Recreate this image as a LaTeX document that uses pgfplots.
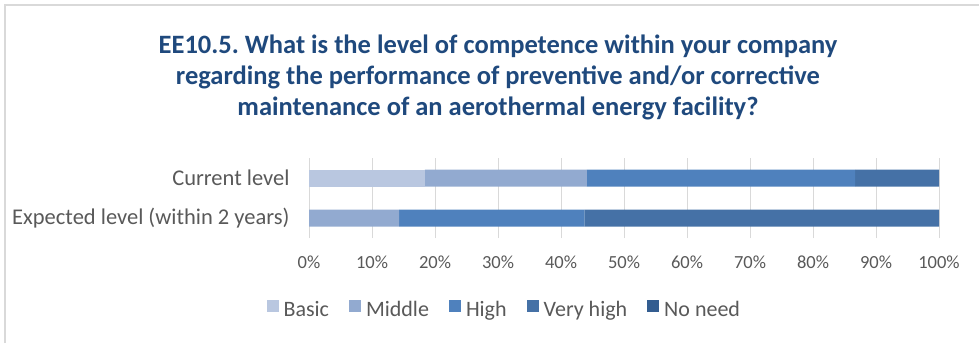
\documentclass[border=0pt]{standalone}
\usepackage{fontspec}
\setmainfont{Carlito}
\usepackage{pgfplots}
\pgfplotsset{compat=1.18}
\definecolor{cBasic}{HTML}{B9C7E0}
\definecolor{cMiddle}{HTML}{92AAD0}
\definecolor{cHigh}{HTML}{4F81BD}
\definecolor{cVery}{HTML}{4571A6}
\definecolor{cNo}{HTML}{335D90}
\definecolor{titleblue}{HTML}{1F497D}
\definecolor{labelgray}{HTML}{595959}
\frenchspacing
\begin{document}
\begin{tikzpicture}[x=1pt,y=1pt]
\useasboundingbox (0,0) rectangle (979,343);
\draw[color=gray!30, line width=1.5pt] (5,0) -- (5,338) -- (979,338);
\node[font=\fontsize{26.5}{31}\selectfont\bfseries, text=titleblue, align=center] at (498,266)
 {EE10.5. What is the level of competence within your company\\regarding the performance of preventive and/or corrective\\maintenance of an aerothermal energy facility?};
\begin{axis}[at={(309pt,105pt)}, anchor=south west, width=630pt, height=80pt, scale only axis,
  xbar stacked, bar width=17pt, xmin=0, xmax=100, ymin=-0.5, ymax=1.5,
  ytick={0,1}, yticklabels={Expected level (within 2 years), Current level},
  xtick={0,10,...,100}, xticklabel={\pgfmathprintnumber{\tick}\%},
  xmajorgrids, grid style={color=gray!30, line width=1pt},
  axis line style={draw=none}, major tick length=0pt,
  tick label style={font=\fontsize{18.5}{22}\selectfont, text=labelgray},
  yticklabel style={font=\fontsize{22.5}{26}\selectfont, xshift=-16pt},
  xticklabel style={yshift=-14pt},
  /pgf/number format/assume math mode=true,
  legend style={at={(0.31,-0.9)}, anchor=center, draw=none, font=\fontsize{22}{26}\selectfont, text=labelgray,
    /tikz/every even column/.append style={column sep=18pt}},
  legend columns=-1,
  legend image code/.code={\fill[#1] (0pt,-2pt) rectangle (12pt,10pt); \path (15pt,0pt);},
]
\addplot[fill=cBasic, draw=none] coordinates {(0,0) (18.4,1)};
\addplot[fill=cMiddle, draw=none] coordinates {(14.3,0) (25.7,1)};
\addplot[fill=cHigh, draw=none] coordinates {(29.4,0) (42.6,1)};
\addplot[fill=cVery, draw=none] coordinates {(56.3,0) (13.3,1)};
\addplot[fill=cNo, draw=none] coordinates {(0,0) (0,1)};
\legend{Basic, Middle, High, Very high, No need}
\end{axis}
\end{tikzpicture}
\end{document}
